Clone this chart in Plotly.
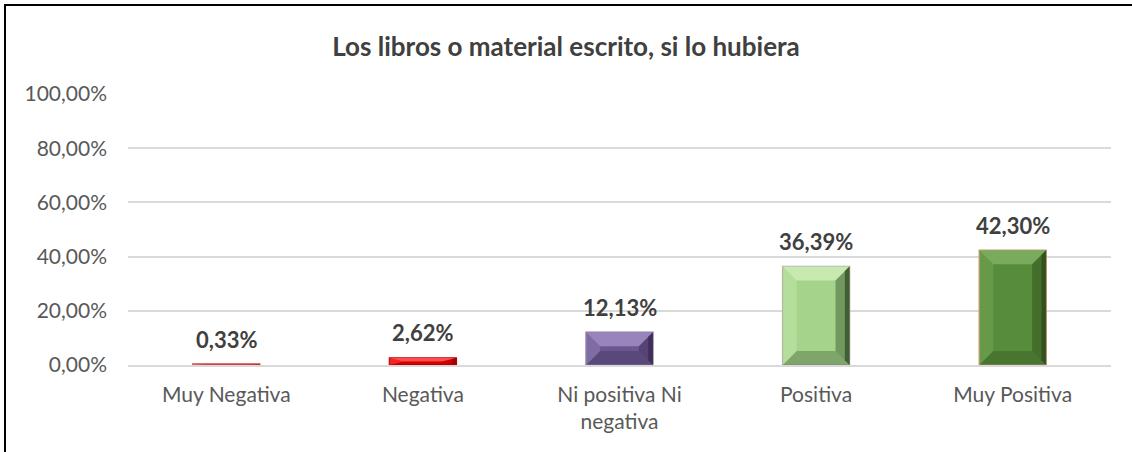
import plotly.graph_objects as go

categories = ["Muy Negativa", "Negativa", "Ni positiva Ni<br>negativa", "Positiva", "Muy Positiva"]
values = [0.0033, 0.0262, 0.1213, 0.3639, 0.4230]
base_colors = ["#e06666", "#ee0000", "#6b5890", "#a6d38c", "#578c3a"]
light_colors = ["#f0a0a0", "#ff4d4d", "#9a84bc", "#c8eab0", "#7aab5c"]
dark_colors = ["#b03030", "#a00000", "#3a2a52", "#34502a", "#2e4a1c"]
edge_colors = ["#cc4444", "#b00000", "#8a7aa0", "#b0b0a0", "#c49a6c"]
y_ticks = [0, 0.2, 0.4, 0.6, 0.8, 1.0]


def rgba(hexc, a):
    h = hexc.lstrip("#")
    r, g, b = int(h[0:2], 16), int(h[2:4], 16), int(h[4:6], 16)
    return f"rgba({r},{g},{b},{a})"


W, H = 1132, 452
L, R, T, B = 128, 21, 94, 87
plot_w = W - L - R
plot_h = H - T - B
bar_w = 0.34
n = len(categories)
x_units_px = plot_w / n
bev_px = 14
bx = bev_px / x_units_px
yr = 1.0
by_full = bev_px / plot_h * yr
FONT = "Lato"

fig = go.Figure()
idx = list(range(n))

fig.add_trace(go.Bar(
    x=idx, y=values, width=bar_w,
    marker=dict(color=base_colors, line=dict(color=edge_colors, width=1.5)),
    hoverinfo="skip", showlegend=False,
))


def poly(xs, ys, color):
    fig.add_trace(go.Scatter(x=xs + [xs[0]], y=ys + [ys[0]], mode="lines", fill="toself",
                             fillcolor=color, line=dict(width=0), hoverinfo="skip",
                             showlegend=False))


for i, v in enumerate(values):
    x0, x1 = i - bar_w / 2, i + bar_w / 2
    by = min(by_full, v / 2)
    bxi = bx
    # top facet
    poly([x0, x1, x1 - bxi, x0 + bxi], [v, v, v - by, v - by], light_colors[i])
    # right facet (two tones, darker toward the edge)
    poly([x1, x1, x1 - bxi, x1 - bxi], [v, 0, by, v - by], rgba(dark_colors[i], 0.45))
    poly([x1, x1, x1 - bxi / 3, x1 - bxi / 3], [v, 0, by / 3, v - by / 3], rgba(dark_colors[i], 0.8))
    # bottom facet
    poly([x0, x1, x1 - bxi, x0 + bxi], [0, 0, by, by], rgba(dark_colors[i], 0.35))
    # left facet
    poly([x0, x0, x0 + bxi, x0 + bxi], [0, v, v - by, by], rgba(light_colors[i], 0.45))

for i, v in enumerate(values):
    fig.add_annotation(x=i, y=v, text=f"{v*100:.2f}".replace(".", ",") + "%",
                       showarrow=False, yanchor="middle", yshift=25,
                       font=dict(family=FONT, size=22, color="#404040", weight="bold"))

fig.update_layout(
    width=W, height=H,
    margin=dict(l=L, r=R, t=T, b=B),
    paper_bgcolor="white", plot_bgcolor="white",
    separators=",.",
    title=dict(text="<b>Los libros o material escrito, si lo hubiera</b>", x=0.5, xref="container",
               xanchor="center", y=1 - 47 / H, yanchor="middle", yref="container",
               font=dict(family=FONT, size=26, color="#404040")),
    xaxis=dict(range=[-0.5, n - 0.5], tickmode="array", tickvals=idx, ticktext=categories,
               showgrid=False, zeroline=False, showline=True, linecolor="#d9d9d9", linewidth=1.5,
               ticks="", tickfont=dict(family=FONT, size=21, color="#595959"), ticklabelstandoff=10),
    yaxis=dict(range=[0, yr], tickvals=y_ticks, tickformat=".2%", showgrid=True,
               gridcolor="#d9d9d9", gridwidth=1.5, zeroline=False, showline=False, ticks="",
               tickfont=dict(family=FONT, size=21, color="#595959"), ticklabelstandoff=20),
    shapes=[dict(type="rect", xref="paper", yref="paper",
                 x0=(5 - L) / plot_w, x1=(W + 20 - L) / plot_w,
                 y0=(H - (H + 20) - B) / plot_h, y1=(H - 5 - B) / plot_h,
                 line=dict(color="black", width=2), fillcolor="rgba(0,0,0,0)", layer="above")],
)

fig.write_html("out.html", config={"displayModeBar": False},
               post_script="document.body.style.margin='0';document.body.style.overflow='hidden';")
